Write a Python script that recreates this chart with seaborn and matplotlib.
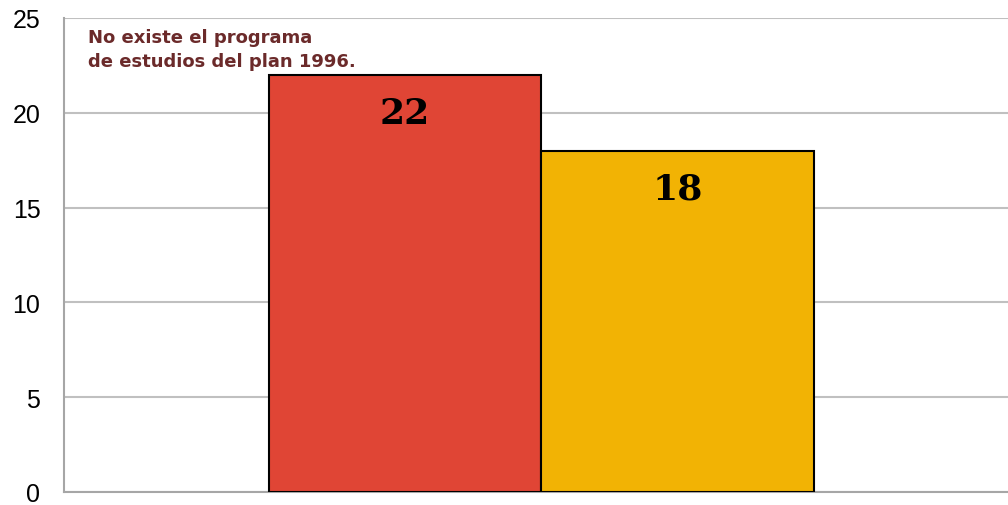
import matplotlib
matplotlib.use("Agg")
import matplotlib.pyplot as plt
import seaborn as sns
import pandas as pd

categories = ["Plan 2004", "Plan 2015"]
values = [22, 18]
colors = ["#E04535", "#F2B304"]
yticks = [0, 5, 10, 15, 20, 25]
note = "No existe el programa\nde estudios del plan 1996."

sns.set_theme(style="white")
plt.rcParams['font.family'] = ['Liberation Sans', 'DejaVu Sans']

df = pd.DataFrame({"cat": categories, "val": values})

fig = plt.figure(figsize=(10.08, 5.06), dpi=100)
ax = fig.add_axes([64/1008, 1 - 493/506, 1 - 64/1008, (493 - 19)/506])

sns.barplot(data=df, x="cat", y="val", hue="cat", palette=colors, width=1.0,
            saturation=1, edgecolor="black", linewidth=1.5, legend=False,
            ax=ax, zorder=3)

ax.set_ylim(0, 25)
ax.set_xlim(-1.25, 2.21)
ax.set_yticks(yticks)
ax.set_yticklabels([str(t) for t in yticks], fontsize=18, color="black")
ax.set_xticks([])
ax.set_xlabel("")
ax.set_ylabel("")
ax.tick_params(axis="y", length=0, pad=17)
ax.yaxis.grid(True, color="#C0C0C0", linewidth=1.5, zorder=0)
ax.set_axisbelow(True)
for s in ["top", "right"]:
    ax.spines[s].set_visible(False)
for s in ["left", "bottom"]:
    ax.spines[s].set_color("#A6A6A6")
    ax.spines[s].set_linewidth(1.5)

for i, v in enumerate(values):
    ax.text(i, v - 2, str(v), ha="center", va="center", fontsize=26,
            fontweight="bold", family="DejaVu Serif", color="black", zorder=4)

ax.text(88/1008, 1 - 29/506, note, transform=fig.transFigure, ha="left", va="top",
        fontsize=13, fontweight="bold", color="#6B2A2A", linespacing=1.45,
        family="DejaVu Sans")

fig.savefig("out.png", dpi=100)
